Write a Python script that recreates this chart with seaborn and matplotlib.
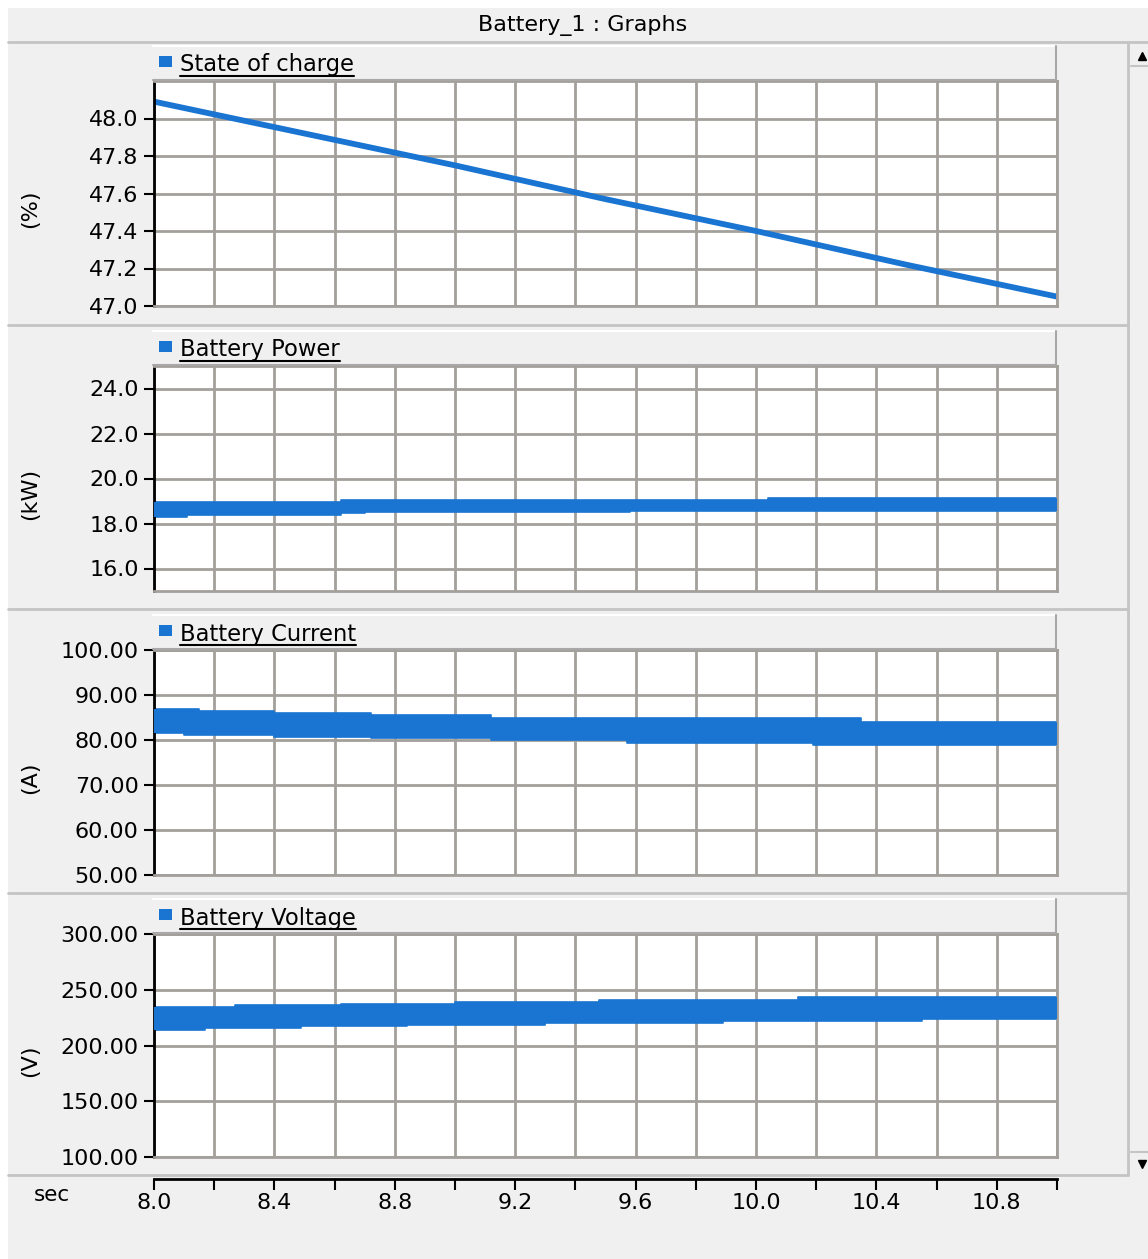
import matplotlib
matplotlib.use('Agg')
import matplotlib.pyplot as plt
from matplotlib.patches import Rectangle
from matplotlib.lines import Line2D
import seaborn as sns
import numpy as np

sns.set_style("whitegrid")
plt.rcParams['font.family'] = ['DejaVu Sans']
plt.rcParams['text.color'] = 'black'
plt.rcParams['xtick.color'] = 'black'
plt.rcParams['ytick.color'] = 'black'

W, H = 1148, 1259
BLUE = '#1a75d2'
GRID = '#a39f9b'
BG = '#f0f0f0'
EDGE = '#c4c4c4'

# --- data ---
soc_t = [8.0, 8.5, 9.0, 9.5, 10.0, 10.5, 11.0]
soc_v = [48.09, 47.92, 47.75, 47.57, 47.40, 47.22, 47.05]

pwr_t = [8.0, 8.11, 8.62, 8.70, 9.58, 10.04, 11.0]
pwr_lo = [18.27, 18.39, 18.48, 18.52, 18.55, 18.55, 18.55]
pwr_hi = [18.95, 18.95, 19.05, 19.05, 19.05, 19.14, 19.14]

cur_t = [8.0, 8.10, 8.15, 8.40, 8.72, 9.12, 9.57, 10.19, 10.35, 11.0]
cur_lo = [81.6, 81.1, 81.1, 80.7, 80.4, 80.0, 79.4, 79.0, 79.0, 79.0]
cur_hi = [86.8, 86.8, 86.4, 85.9, 85.5, 85.0, 84.8, 84.8, 84.1, 84.1]

vol_t = [8.0, 8.17, 8.27, 8.49, 8.62, 8.84, 9.0, 9.3, 9.48, 9.89, 10.14, 10.55, 11.0]
vol_lo = [213.9, 215.6, 215.6, 217.1, 217.1, 218.6, 218.6, 220.3, 220.3, 222.2, 222.2, 223.6, 223.6]
vol_hi = [234.3, 234.3, 236.0, 236.0, 237.5, 237.5, 239.3, 239.3, 240.8, 240.8, 243.2, 243.2, 243.2]

titles = ['State of charge', 'Battery Power', 'Battery Current', 'Battery Voltage']
units = ['(%)', '(kW)', '(A)', '(V)']
y_limits = [(47.0, 48.2), (15.0, 25.0), (50.0, 100.0), (100.0, 300.0)]
y_ticks = [[47.0, 47.2, 47.4, 47.6, 47.8, 48.0],
           [16.0, 18.0, 20.0, 22.0, 24.0],
           [50, 60, 70, 80, 90, 100],
           [100, 150, 200, 250, 300]]
y_fmt = ['{:.1f}', '{:.1f}', '{:.2f}', '{:.2f}']
x_ticks = [8.0, 8.2, 8.4, 8.6, 8.8, 9.0, 9.2, 9.4, 9.6, 9.8, 10.0,
           10.2, 10.4, 10.6, 10.8, 11.0]
x_labels = ['8.0', '', '8.4', '', '8.8', '', '9.2', '', '9.6', '',
            '10.0', '', '10.4', '', '10.8', '']
bands = [None, (pwr_t, pwr_lo, pwr_hi), (cur_t, cur_lo, cur_hi), (vol_t, vol_lo, vol_hi)]

# pixel layout of the panels (top, height)
tops = [81, 366, 650, 934]
heights = [225, 225, 225, 223]
X0, X1 = 154, 1057
FS = 16


def fx(x):
    return x / W


def fy(y):
    return 1 - y / H


def box(x0, y0, x1, y1):
    return [fx(x0), fy(y1), (x1 - x0) / W, (y1 - y0) / H]


def hline(fig, y, x0, x1, color=EDGE, lw=1.5):
    fig.add_artist(Line2D([fx(x0), fx(x1)], [fy(y), fy(y)], color=color, lw=lw))


def vline(fig, x, y0, y1, color=EDGE, lw=1.5):
    fig.add_artist(Line2D([fx(x), fx(x)], [fy(y0), fy(y1)], color=color, lw=lw))


fig = plt.figure(figsize=(W / 100, H / 100), dpi=100, facecolor=BG)

# window frame
fig.add_artist(Rectangle((0, fy(8)), 1, 8 / H, color='white', lw=0))
fig.add_artist(Rectangle((0, 0), fx(8), 1, color='white', lw=0))
fig.text(fx(583), fy(26), 'Battery_1 : Graphs', ha='center', va='center', fontsize=FS)
hline(fig, 42, 8, 1148, lw=2)
for y in [325, 609, 893, 1175]:
    hline(fig, y, 8, 1128, lw=2)

# scrollbar
vline(fig, 1128, 42, 1175, lw=2)
hline(fig, 66, 1131, 1148)
hline(fig, 1152, 1131, 1148)
fig.add_artist(Line2D([fx(1142)], [fy(56)], marker='^', ms=6, color='black', lw=0))
fig.add_artist(Line2D([fx(1142)], [fy(1164)], marker='v', ms=6, color='black', lw=0))

legend_texts = []
for i in range(4):
    top, h = tops[i], heights[i]
    ax = fig.add_axes(box(X0, top, X1, top + h))
    ax.set_facecolor('white')

    if i == 0:
        sns.lineplot(x=soc_t, y=soc_v, ax=ax, color=BLUE, linewidth=4.2)
    else:
        t, lo, hi = bands[i]
        ax.fill_between(t, lo, hi, step='post', color=BLUE, lw=0, zorder=3)
        sns.lineplot(x=t, y=lo, ax=ax, color=BLUE, linewidth=1.2, drawstyle='steps-post')
        sns.lineplot(x=t, y=hi, ax=ax, color=BLUE, linewidth=1.2, drawstyle='steps-post')

    ax.set_xlim(8.0, 11.0)
    ax.set_ylim(*y_limits[i])
    ax.set_xticks(x_ticks)
    ax.set_yticks(y_ticks[i])
    ax.set_yticklabels([y_fmt[i].format(v) for v in y_ticks[i]])
    ax.grid(True, color=GRID, linewidth=2)
    ax.set_axisbelow(True)
    ax.tick_params(axis='x', length=0, labelbottom=False)
    ax.tick_params(axis='y', direction='out', length=7, width=1.5, color='black',
                   labelcolor='black', labelsize=FS, pad=4, left=True)
    for side in ['top', 'right', 'bottom']:
        ax.spines[side].set_color(GRID)
        ax.spines[side].set_linewidth(2)
    ax.spines['left'].set_color('black')
    ax.spines['left'].set_linewidth(2)
    ax.set_xlabel('')
    ax.set_ylabel('')

    # unit label
    fig.text(fx(30), fy(top + h / 2 + 15), units[i], rotation=90,
             ha='center', va='center', fontsize=FS)

    # legend tab above the plot
    t0, t1 = top - 35, top - 1
    fig.add_artist(Rectangle((fx(153), fy(t1)), (1056 - 153) / W, (t1 - t0) / H,
                             facecolor=BG, lw=0))
    hline(fig, t0, 153, 1056, color='white', lw=1.5)
    hline(fig, t1, 153, 1056, color='#a8a8a8', lw=1.5)
    vline(fig, 1056, t0, t1, color='#a8a8a8', lw=1.5)
    fig.add_artist(Rectangle((fx(159), fy(top - 14)), 13 / W, 11 / H,
                             facecolor=BLUE, lw=0))
    txt = fig.text(fx(180), fy(top - 9.5), titles[i], ha='left', va='baseline',
                   fontsize=FS + 0.3)
    legend_texts.append((txt, top))

# shared time axis at the bottom
axb = fig.add_axes(box(X0, 1177, X1, 1179))
axb.set_facecolor('none')
axb.set_xlim(8.0, 11.0)
axb.set_xticks(x_ticks)
axb.set_xticklabels(x_labels)
axb.set_yticks([])
axb.grid(False)
for side in ['top', 'left', 'right']:
    axb.spines[side].set_visible(False)
axb.spines['bottom'].set_color('black')
axb.spines['bottom'].set_linewidth(2)
axb.tick_params(axis='x', direction='out', length=8, width=1.5, color='black',
                labelcolor='black', labelsize=FS, pad=2, bottom=True)
fig.text(fx(52), fy(1195), 'sec', ha='center', va='center', fontsize=FS - 0.5)

# underline the legend texts
fig.canvas.draw()
renderer = fig.canvas.get_renderer()
for txt, top in legend_texts:
    bb = txt.get_window_extent(renderer)
    x0, x1 = bb.x0 / W, bb.x1 / W
    fig.add_artist(Line2D([x0, x1], [fy(top - 5.5), fy(top - 5.5)], color='black', lw=1.5))

fig.savefig('out.png', dpi=100, facecolor=BG)
